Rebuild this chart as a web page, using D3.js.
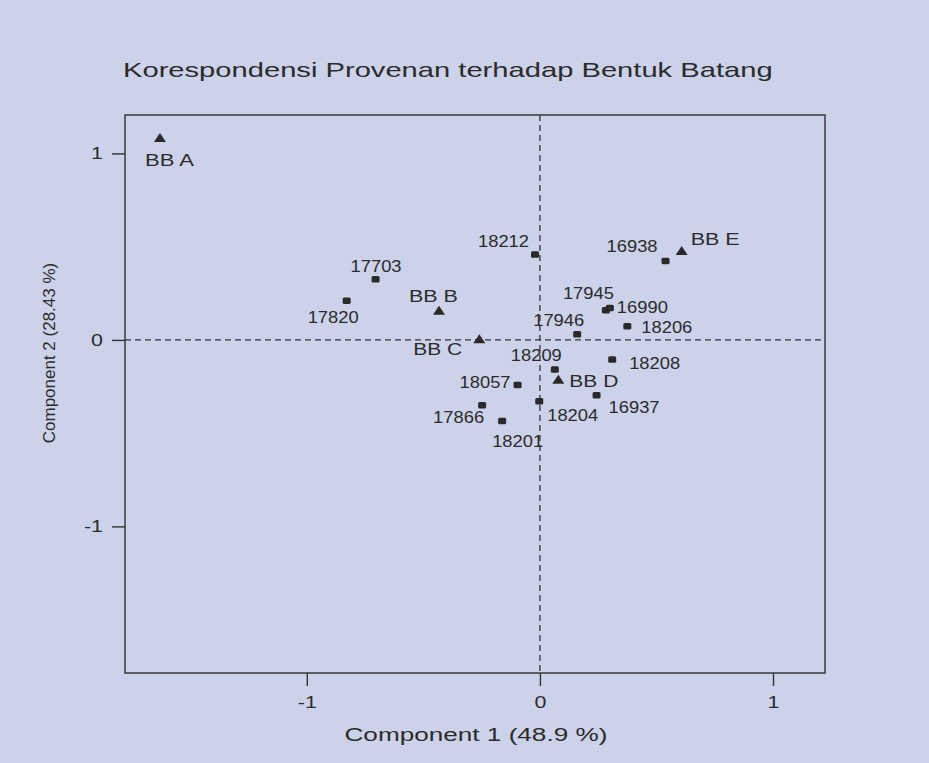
<!DOCTYPE html>
<html>
<head>
<meta charset="utf-8">
<script src="https://cdn.jsdelivr.net/npm/d3@7"></script>
<style>
  body { margin: 0; background: #cbd2ea; }
  svg { display: block; }
  text { font-family: "Liberation Sans", Arial, sans-serif; fill: #2b2b2b; }
</style>
</head>
<body>
<div id="chart"></div>
<script>
// data
var names = ["BB A", "BB B", "BB C", "BB D", "BB E",
    "17703", "17820", "18212", "16938", "17945", "16990", "17946", "18206",
    "18209", "18208", "18057", "16937", "18204", "17866", "18201"];
var comp1 = [-1.630, -0.433, -0.260, 0.079, 0.608,
    -0.705, -0.829, -0.021, 0.539, 0.283, 0.300, 0.160, 0.375,
    0.064, 0.310, -0.096, 0.243, -0.003, -0.248, -0.162];
var comp2 = [1.083, 0.157, 0.004, -0.214, 0.477,
    0.327, 0.211, 0.460, 0.425, 0.161, 0.173, 0.032, 0.075,
    -0.157, -0.103, -0.241, -0.295, -0.327, -0.349, -0.434];
var kinds = ["bentuk", "bentuk", "bentuk", "bentuk", "bentuk",
    "prov", "prov", "prov", "prov", "prov", "prov", "prov", "prov",
    "prov", "prov", "prov", "prov", "prov", "prov", "prov"];
var xTicks = [-1, 0, 1];
var yTicks = [-1, 0, 1];

// label offsets from the marker (px): left edge, baseline
var labelOffset = {
    "BB A": [-15, 28], "BB B": [-30, -9], "BB C": [-66, 16], "BB D": [11, 7], "BB E": [9, -6],
    "17703": [-25, -7], "17820": [-39, 22], "18212": [-57, -7], "16938": [-59, -9],
    "17945": [-43, -11], "16990": [7, 5], "17946": [-44, -8], "18206": [14, 7],
    "18209": [-44, -8], "18208": [17, 10], "18057": [-58, 3], "16937": [12, 18],
    "18204": [8, 20], "17866": [-49, 18], "18201": [-10, 26]
};

var W = 929, H = 763;
var plotL = 125, plotR = 825, plotT = 115, plotB = 673;
var ink = "#333";

var svg = d3.select("#chart").append("svg")
    .attr("width", W)
    .attr("height", H);

var x = d3.scaleLinear().domain([-1.78, 1.223]).range([plotL, plotR]);
var y = d3.scaleLinear().domain([-1.786, 1.206]).range([plotB, plotT]);

// stretched text helper (the scan is wider than it is tall)
function stretchText(g, str, px, py, size, width, anchor) {
    var grp = g.append("g");
    var t = grp.append("text")
        .attr("font-size", size + "px")
        .text(str);
    var len = t.node().getComputedTextLength();
    var k = width / len;
    var ox = anchor === "middle" ? -width / 2 : (anchor === "end" ? -width : 0);
    grp.attr("transform", "translate(" + (px + ox) + "," + py + ") scale(" + k + ",1)");
    return grp;
}

// title
stretchText(svg, "Korespondensi Provenan terhadap Bentuk Batang", 123, 77, 20.5, 650, "start");

// frame
svg.append("rect")
    .attr("x", plotL)
    .attr("y", plotT)
    .attr("width", plotR - plotL)
    .attr("height", plotB - plotT)
    .attr("fill", "none")
    .attr("stroke", "#3a3a3a")
    .attr("stroke-width", 1.5);

// zero reference lines
svg.append("line")
    .attr("x1", x(0)).attr("x2", x(0))
    .attr("y1", plotT).attr("y2", plotB)
    .attr("stroke", ink)
    .attr("stroke-width", 1.3)
    .attr("stroke-dasharray", "6,4");
svg.append("line")
    .attr("x1", plotL).attr("x2", plotR)
    .attr("y1", y(0)).attr("y2", y(0))
    .attr("stroke", ink)
    .attr("stroke-width", 1.3)
    .attr("stroke-dasharray", "6,4");

// Add X axis
var xAxis = svg.append("g")
    .attr("transform", "translate(0," + plotB + ")")
    .call(d3.axisBottom(x).tickValues(xTicks).tickSize(13).tickPadding(10).tickFormat(d3.format("d")));
xAxis.select(".domain").remove();
xAxis.selectAll("line").attr("stroke", ink).attr("stroke-width", 1.4);
xAxis.selectAll("text")
    .attr("font-size", "16.5px")
    .attr("font-family", "Liberation Sans, Arial, sans-serif")
    .attr("fill", "#2b2b2b")
    .attr("transform", "scale(1.3,1)")
    .text(function (d) { return d < 0 ? "-" + Math.abs(d) : d; });

// Add Y axis
var yAxis = svg.append("g")
    .attr("transform", "translate(" + plotL + ",0)")
    .call(d3.axisLeft(y).tickValues(yTicks).tickSize(13).tickPadding(9).tickFormat(d3.format("d")));
yAxis.select(".domain").remove();
yAxis.selectAll("line").attr("stroke", ink).attr("stroke-width", 1.4);
yAxis.selectAll("text")
    .attr("font-size", "16.5px")
    .attr("font-family", "Liberation Sans, Arial, sans-serif")
    .attr("fill", "#2b2b2b")
    .attr("x", -22 / 1.3)
    .attr("transform", "scale(1.3,1)")
    .text(function (d) { return d < 0 ? "-" + Math.abs(d) : d; });

// axis titles
stretchText(svg, "Component  1 (48.9 %)", 476, 741, 17.5, 263, "middle");

svg.append("text")
    .attr("transform", "translate(55," + 353 + ") rotate(-90)")
    .attr("text-anchor", "middle")
    .attr("font-size", "17px")
    .text("Component 2 (28.43 %)");

// markers
var pts = svg.append("g");
names.forEach(function (n, i) {
    var cx = x(comp1[i]), cy = y(comp2[i]);
    if (kinds[i] === "bentuk") {
        pts.append("path")
            .attr("d", "M" + (cx - 6) + "," + (cy + 4) + "L" + cx + "," + (cy - 5) + "L" + (cx + 6) + "," + (cy + 4) + "Z")
            .attr("fill", "#2a2a2a");
    } else {
        pts.append("rect")
            .attr("x", cx - 4)
            .attr("y", cy - 3)
            .attr("width", 8)
            .attr("height", 6.5)
            .attr("rx", 1.5)
            .attr("fill", "#2a2a2a");
    }
    var off = labelOffset[n];
    stretchText(pts, n, cx + off[0], cy + off[1], 16.5, kinds[i] === "bentuk" ? 49 : 51, "start");
});
</script>
</body>
</html>
